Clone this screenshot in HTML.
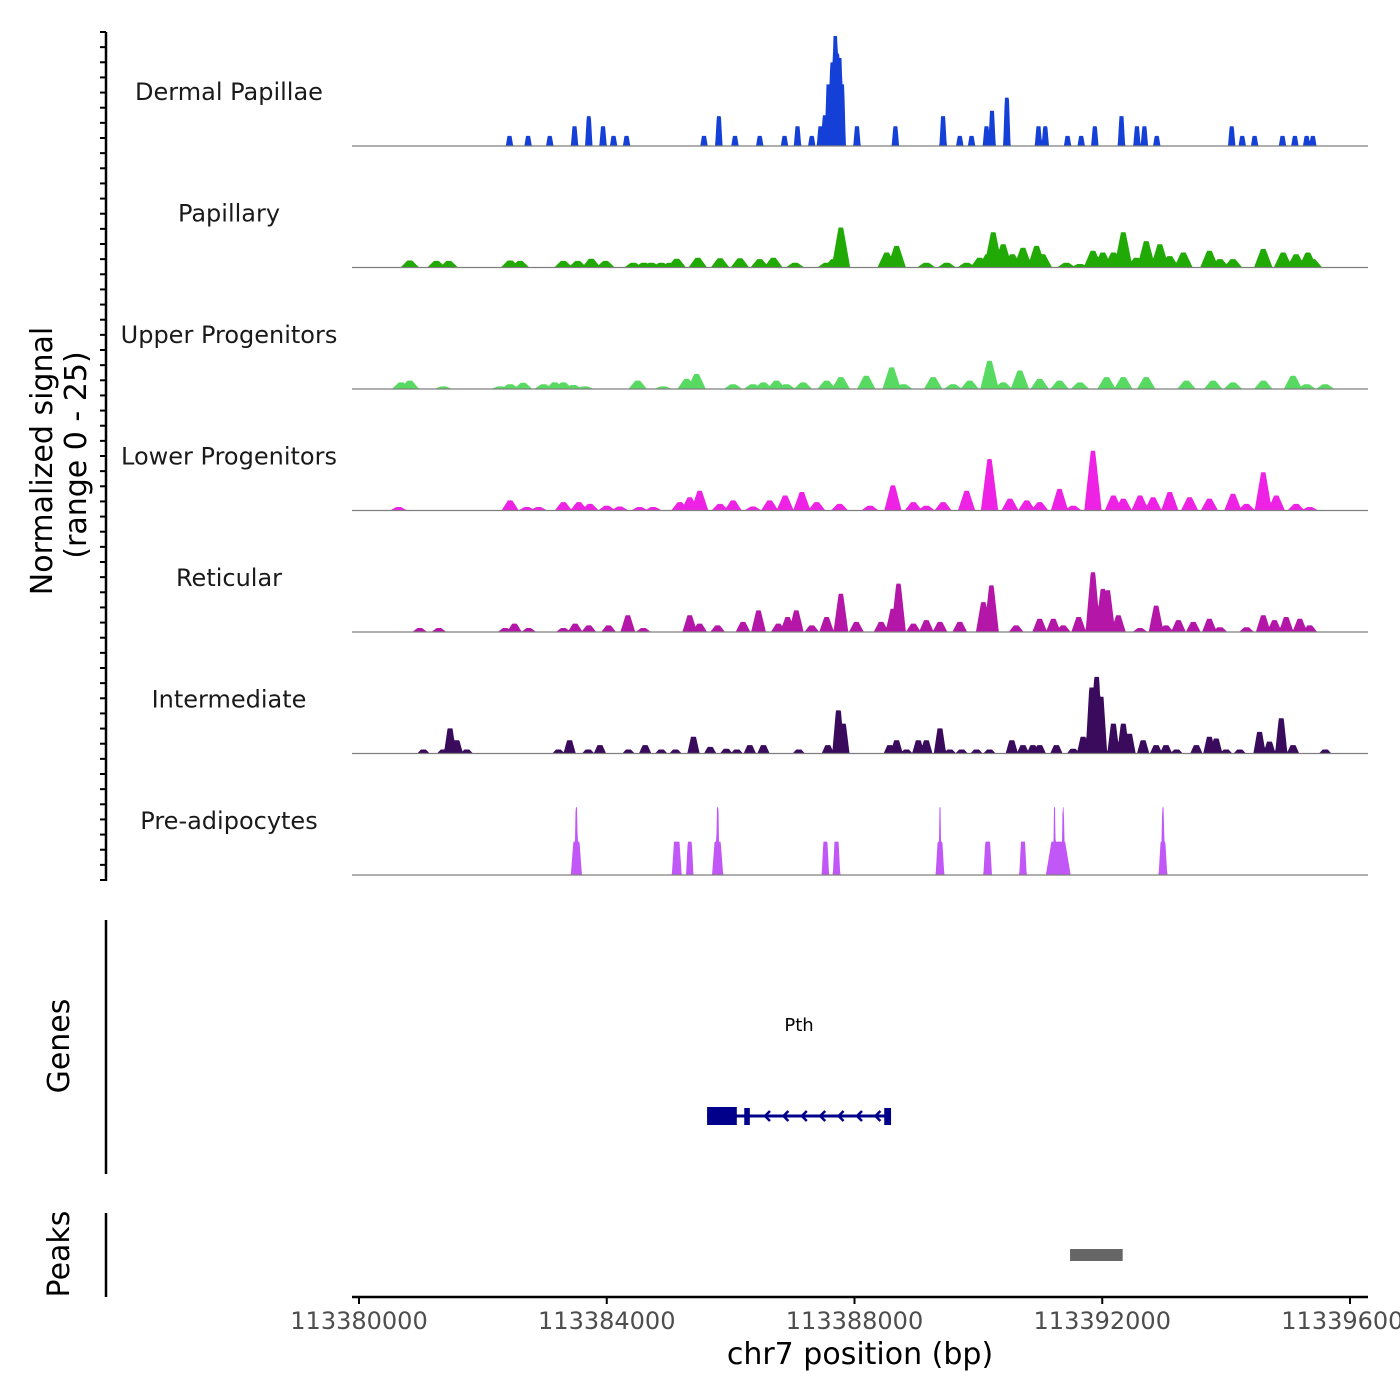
<!DOCTYPE html>
<html><head><meta charset="utf-8"><style>
html,body{margin:0;padding:0;background:#fff;}
svg{display:block;font-family:"DejaVu Sans","Liberation Sans",sans-serif;}
</style></head><body>
<svg id="chart" width="1400" height="1400" viewBox="0 0 1400 1400" xmlns="http://www.w3.org/2000/svg">
<g id="tracks"></g>
<g id="axes"></g>
</svg>
<script>
// genomic positions in kb (offset from 113380 kb), heights in normalized signal units
const xTicks = [113380000, 113384000, 113388000, 113392000, 113396000];
const trackNames = ["Dermal Papillae","Papillary","Upper Progenitors","Lower Progenitors","Reticular","Intermediate","Pre-adipocytes"];
const trackColors = ["#1540D8","#21AA06","#58DA62","#EE22E4","#B416A8","#3A0B5C","#C157F7"];

const dpPos = [2.43,2.73,3.08,3.48,3.71,3.94,4.11,4.32,5.57,5.81,6.07,6.47,6.87,7.08,7.31,7.45,7.52,7.58,7.64,7.69,7.72,7.76,7.80,8.04,8.66,9.43,9.70,9.89,10.13,10.22,10.46,10.97,11.08,11.44,11.66,11.88,12.31,12.56,12.68,12.88,14.09,14.26,14.46,14.91,15.11,15.30,15.40];
const dpVal = [2.3,2.3,2.3,4.5,6.8,4.5,2.3,2.3,2.3,6.8,2.3,2.3,2.3,4.5,2.3,4.5,7,14,19,25,21,20,14,4.5,4.5,6.8,2.3,2.3,4.5,8,11,4.5,4.5,2.3,2.3,4.5,6.8,4.5,4.5,2.3,4.5,2.3,2.3,2.3,2.3,2.3,2.3];

const paPos = [0.82,1.25,1.45,2.44,2.60,3.30,3.53,3.75,3.98,4.43,4.60,4.72,4.88,5.02,5.13,5.47,5.83,6.15,6.47,6.69,7.04,7.55,7.66,7.78,8.52,8.68,9.16,9.49,9.81,10.02,10.15,10.24,10.40,10.55,10.72,10.94,11.04,11.42,11.64,11.85,12.01,12.18,12.34,12.55,12.71,12.93,13.09,13.31,13.73,13.90,14.11,14.60,14.92,15.13,15.32,15.40];
const paVal = [1.6,1.5,1.5,1.6,1.5,1.5,1.5,2,1.5,1.1,1.1,1.1,1.1,1.1,2,2.2,2.1,2.1,1.9,2.2,1.1,1.1,1.9,9.1,3.4,4.9,1.1,1.1,1.1,2.2,3,8,5.3,3,4.5,4.9,3,1.1,0.8,3.8,3.4,3.4,8,2.2,6,5.3,2.6,3.4,3.8,1.9,1.9,4.2,3.4,3,3.4,1.9];

const upPos = [0.68,0.82,1.36,2.28,2.44,2.65,2.98,3.16,3.30,3.46,3.65,4.50,4.91,5.29,5.45,6.04,6.36,6.53,6.74,6.90,7.17,7.55,7.78,8.19,8.60,8.79,9.27,9.59,9.86,10.18,10.40,10.67,10.99,11.31,11.64,12.07,12.34,12.71,13.36,13.79,14.11,14.60,15.08,15.30,15.60];
const upVal = [1.5,1.9,0.6,0.6,1.1,1.4,1.1,1.5,1.5,0.9,0.6,1.9,0.6,2.3,3.4,1.1,1.1,1.5,1.9,1.1,1.5,1.9,2.7,3,4.9,1.1,2.7,1.1,1.9,6.4,1.5,4.2,2.3,1.9,1.5,2.7,2.7,2.7,1.9,1.9,1.5,1.9,3,1.1,1.1];

const loPos = [0.64,2.44,2.71,2.90,3.30,3.55,3.73,4.00,4.21,4.53,4.75,5.18,5.34,5.50,5.83,6.04,6.36,6.63,6.88,7.15,7.39,7.76,8.25,8.62,8.95,9.16,9.43,9.81,10.18,10.51,10.78,10.99,11.31,11.53,11.85,12.18,12.34,12.61,12.82,13.09,13.41,13.73,14.11,14.33,14.60,14.81,15.13,15.35];
const loVal = [0.8,2.3,0.8,0.8,1.9,1.9,1.5,1.1,0.9,0.8,0.8,1.9,3,4.5,1.5,2.3,0.9,2.3,3.4,4.2,1.9,1.5,1.1,5.7,1.9,1.1,1.9,4.5,11.7,2.7,2.3,1.9,4.9,1.1,13.6,3.4,2.7,3.4,3,4.2,3,2.7,3.8,1.5,8.7,3.4,1.5,0.8];

const rePos = [0.98,1.29,2.36,2.51,2.74,3.30,3.49,3.71,4.03,4.34,4.59,5.34,5.50,5.79,6.20,6.45,6.77,6.92,7.06,7.31,7.55,7.78,8.03,8.43,8.62,8.71,8.95,9.16,9.38,9.70,10.08,10.21,10.61,10.99,11.21,11.37,11.62,11.85,12.01,12.09,12.26,12.61,12.87,13.03,13.23,13.47,13.73,13.90,14.33,14.60,14.78,14.97,15.19,15.35];
const reVal = [0.9,0.9,0.9,1.9,0.9,0.9,1.9,1.5,1.5,3.8,0.9,3.8,1.9,1.5,2.3,4.9,1.9,3.4,4.9,1.5,3.4,8.7,2.3,2.3,5.3,11,1.9,2.7,2.3,2.3,6.8,10.6,1.5,3,3,1.5,3.4,13.6,9.8,9.5,3.8,0.9,6,1.5,2.7,2.3,3,1.1,1.1,3.8,2.7,3.4,3,1.5];

const inPos = [1.04,1.36,1.47,1.58,1.74,3.22,3.40,3.70,3.89,4.35,4.62,4.88,5.11,5.40,5.67,5.93,6.10,6.31,6.53,7.10,7.57,7.74,7.82,8.57,8.68,8.84,9.03,9.16,9.38,9.54,9.73,9.97,10.18,10.54,10.72,10.88,10.99,11.26,11.53,11.69,11.83,11.91,11.98,12.18,12.34,12.44,12.66,12.87,13.03,13.20,13.52,13.73,13.84,14.00,14.22,14.54,14.70,14.89,15.08,15.60];
const inVal = [0.9,0.9,5.7,3,0.9,0.9,3,0.9,1.9,0.9,1.9,0.9,0.9,3.8,1.5,1.1,0.9,1.9,1.9,0.9,1.9,9.8,6.8,1.9,3,0.9,3,3,5.7,0.9,0.9,0.9,0.9,3,1.9,1.9,1.9,1.9,1.1,3.8,15,17.4,12.9,6.8,6.8,4.5,3,1.9,1.9,0.9,1.9,3.8,3.4,0.9,0.9,4.9,2.7,8,1.9,0.9];

const prPos = [3.51,3.51,5.13,5.34,5.79,5.79,7.53,7.71,9.38,9.38,10.15,10.72,11.29,11.23,11.37,12.98,12.98];
const prVal = [7.6,15.4,7.6,7.6,7.6,15.4,7.6,7.6,7.6,15.4,7.6,7.6,7.6,15.4,15.4,7.6,15.4];
const prWid = [0.09,0.025,0.08,0.06,0.09,0.025,0.06,0.06,0.07,0.02,0.07,0.06,0.2,0.02,0.02,0.07,0.025];

const trackPos = [dpPos,paPos,upPos,loPos,rePos,inPos,prPos];
const trackVal = [dpVal,paVal,upVal,loVal,reVal,inVal,prVal];
const trackWidth = [0.06,0.15,0.15,0.14,0.12,0.1,0.07];
const trackTaper = [0.45,0.75,0.75,0.75,0.7,0.6,0.45];

const geneName = "Pth";
const geneStart = 5.62, geneEnd = 8.59;
const exonStarts = [5.62,6.22,8.48];
const exonEnds = [6.10,6.31,8.59];
const peakStarts = [11.48];
const peakEnds = [12.33];

const NS="http://www.w3.org/2000/svg";
const X0=359, PXKB=991/16;
function xs(kb){return X0+kb*PXKB;}
function ys(v,base){return base - v*4.4;}
function mk(tag,attrs,parent){const e=document.createElementNS(NS,tag);for(const k in attrs)e.setAttribute(k,attrs[k]);parent.appendChild(e);return e;}
const tracks=document.getElementById('tracks'), axes=document.getElementById('axes');

trackNames.forEach((name,i)=>{
  const base=146+121.5*i;
  const pos=trackPos[i], val=trackVal[i];
  const pts=[];
  for(let px=352;px<=1368;px+=0.5){
    const kb=(px-X0)/PXKB;let v=0;
    for(let j=0;j<pos.length;j++){
      const w=(i===6?prWid[j]:trackWidth[i]);
      const d=Math.abs(kb-pos[j]);
      const f=Math.max(0,Math.min(1,(w-d)/(w*trackTaper[i])));
      v=Math.max(v,val[j]*f);
    }
    pts.push(px.toFixed(1)+","+ys(v,base).toFixed(1));
  }
  const g=mk('g',{},tracks);
  
  
  const p=mk('polygon',{points:"352,"+base+" "+pts.join(" ")+" 1368,"+base,fill:trackColors[i]},g);
  
  
  const l=mk('line',{x1:352,x2:1368,y1:base,y2:base,stroke:"#7f7f7f","stroke-width":1.2},g);
  
  
  const t=mk('text',{x:229,y:base-46,"text-anchor":"middle","font-size":24,fill:"#1a1a1a"},g);
  t.textContent=name;
  
  
});

// left signal axis
mk('line',{x1:106,x2:106,y1:32,y2:881,stroke:"#000","stroke-width":2.5},axes);
for(let k=0;k<=56;k++){const y=32+k*848/56;mk('line',{x1:100,x2:106,y1:y,y2:y,stroke:"#000","stroke-width":2},axes);}
mk('line',{x1:106,x2:106,y1:920,y2:1174,stroke:"#000","stroke-width":2.5},axes);
mk('line',{x1:106,x2:106,y1:1213,y2:1297,stroke:"#000","stroke-width":2.5},axes);

function rot(txt,x,y,name){const t=mk('text',{x:x,y:y,transform:`rotate(-90 ${x} ${y})`,"text-anchor":"middle","font-size":30,fill:"#000"},axes);t.textContent=txt;}
rot("Normalized signal",52,461,"y-axis-title");
rot("(range 0 - 25)",86,455,"y-axis-subtitle");
rot("Genes",69,1046,"genes-axis-title");
rot("Peaks",69,1254,"peaks-axis-title");

// gene
const gg=mk('g',{},tracks);


mk('line',{x1:xs(geneStart),x2:xs(geneEnd),y1:1116,y2:1116,stroke:"#00008B","stroke-width":3},gg);
exonStarts.forEach((s,j)=>{const thick=j===0;mk('rect',{x:xs(s),y:thick?1107:1108,width:xs(exonEnds[j])-xs(s),height:thick?18:17,fill:"#00008B"},gg);});
for(let a=0;a<7;a++){const x=765+a*18.4;mk('polyline',{points:`${x+5},1111 ${x},1116 ${x+5},1121`,fill:"none",stroke:"#00008B","stroke-width":2.5},gg);}
const gt=mk('text',{x:(xs(geneStart)+xs(geneEnd))/2,y:1031,"text-anchor":"middle","font-size":18,fill:"#000"},gg);gt.textContent=geneName;



// peaks
peakStarts.forEach((s,j)=>{const r=mk('rect',{x:xs(s),y:1249,width:xs(peakEnds[j])-xs(s),height:12,fill:"#666"},tracks);

});

// x axis
mk('line',{x1:352,x2:1368,y1:1297,y2:1297,stroke:"#000","stroke-width":2.5},axes);
xTicks.forEach(t=>{const x=xs((t-113380000)/1000);mk('line',{x1:x,x2:x,y1:1297,y2:1304,stroke:"#000","stroke-width":2},axes);
const tx=mk('text',{x:x,y:1329,"text-anchor":"middle","font-size":24,fill:"#4d4d4d"},axes);tx.textContent=t;

});
const xt=mk('text',{x:860,y:1364,"text-anchor":"middle","font-size":30,fill:"#000"},axes);xt.textContent="chr7 position (bp)";


</script>
</body></html>
